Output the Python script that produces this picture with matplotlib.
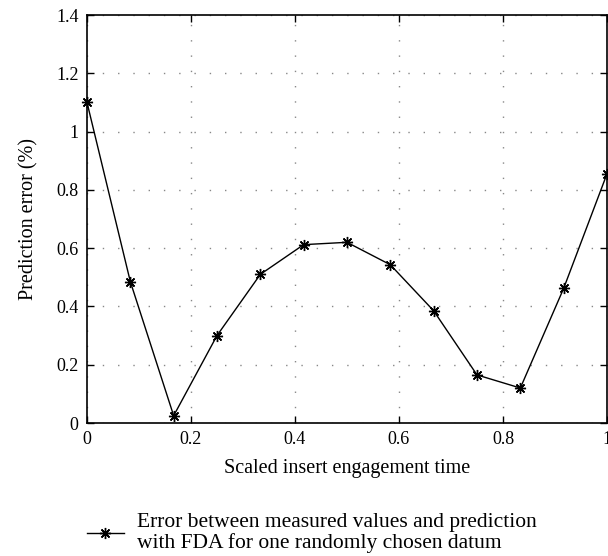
import matplotlib.pyplot as plt
from matplotlib.lines import Line2D

# data
time_scaled = [i / 12 for i in range(13)]
pred_error = [1.10, 0.485, 0.025, 0.30, 0.51, 0.612, 0.62, 0.543, 0.385, 0.165, 0.12, 0.462, 0.855]
x_ticks = [0, 0.2, 0.4, 0.6, 0.8, 1]
x_tick_labels = ["0", "0.2", "0.4", "0.6", "0.8", "1"]
y_ticks = [0, 0.2, 0.4, 0.6, 0.8, 1.0, 1.2, 1.4]
y_tick_labels = ["0", "0.2", "0.4", "0.6", "0.8", "1", "1.2", "1.4"]
legend_text = "Error between measured values and prediction\nwith FDA for one randomly chosen datum"

plt.rcParams["font.family"] = ["Liberation Serif", "DejaVu Serif"]
plt.rcParams["font.size"] = 13

star = (8, 2, 0)  # asterisk like matlab '*'

fig = plt.figure(figsize=(6.08, 5.56), dpi=100)
ax = fig.add_axes([87 / 608, 1 - 423 / 556, 520 / 608, 408 / 556])

ax.plot(time_scaled, pred_error, color="black", lw=1.0,
        marker=star, markersize=8, markeredgewidth=1.0, clip_on=False, zorder=3)

ax.set_xlim(0, 1)
ax.set_ylim(0, 1.4)
ax.set_xticks(x_ticks)
ax.set_xticklabels(x_tick_labels)
ax.set_yticks(y_ticks)
ax.set_yticklabels(y_tick_labels)
ax.tick_params(direction="in", top=True, right=True, length=5, width=1, color="black", pad=6)
ax.grid(True, color="#888888", linestyle=(0, (1, 10)), linewidth=1.0)
for s in ax.spines.values():
    s.set_linewidth(1.2)

ax.set_xlabel("Scaled insert engagement time", fontsize=14.5, labelpad=8)
ax.set_ylabel("Prediction error (%)", fontsize=14.5, labelpad=13)

# legend below the plot
handle = Line2D([], [], color="black", lw=1.0, marker=star, markersize=8, markeredgewidth=1.0)
leg = fig.legend([handle], [legend_text], loc="upper left", bbox_to_anchor=(87 / 608, 1 - 513 / 556),
                 frameon=False, handlelength=1.7, handletextpad=0.6, fontsize=15.5,
                 borderpad=0, borderaxespad=0)
for t in leg.get_texts():
    t.set_linespacing(1.1)

fig.savefig("out.png", dpi=100)
